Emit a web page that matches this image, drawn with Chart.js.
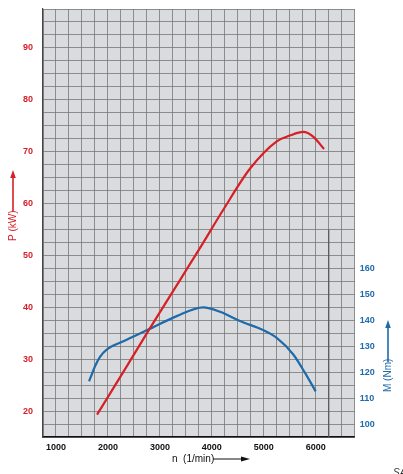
<!DOCTYPE html>
<html>
<head>
<meta charset="utf-8">
<script src="https://cdn.jsdelivr.net/npm/chart.js@4/dist/chart.umd.min.js"></script>
<style>
html, body { margin: 0; padding: 0; background: #fff; }
#wrap { width: 403px; height: 474px; }
</style>
</head>
<body>
<div id="wrap"><canvas id="c"></canvas></div>
<script>
// power curve P (kW) over engine speed n (1/min)
var rpmP = [1790, 2300, 2780, 3390, 3770, 4220, 4740, 5250, 5500, 5760, 5950, 6160];
var powerKW = [19.3, 27.6, 35.5, 45.3, 51.4, 58.8, 66.8, 72.0, 73.1, 73.8, 72.9, 70.5];

// torque curve M (Nm)
var rpmM = [1636, 1687, 1751, 1847, 1976, 2296, 2777, 3324, 3836, 4157, 4542, 4991, 5249, 5568, 5794, 5999];
var torqueNm = [116.5, 119.0, 122.3, 125.9, 128.7, 131.9, 136.4, 141.6, 145.0, 143.3, 139.7, 136.2, 133.2, 126.8, 119.7, 112.6];

// dark marker line near the end of the speed range
var markRpm = [6250, 6250];
var markKW = [15, 55];

var xTicks = [1000, 2000, 3000, 4000, 5000, 6000];
var pTicks = [20, 30, 40, 50, 60, 70, 80, 90];
var mTicks = [100, 110, 120, 130, 140, 150, 160];

var RED = '#d71f26';
var BLUE = '#1f6aa8';
var FONT = '"Liberation Sans", Arial, sans-serif';

function pts(xs, ys) {
    return xs.map(function (x, i) { return {x: x, y: ys[i]}; });
}

var plotBg = {
    id: 'plotBg',
    beforeDraw: function (chart) {
        var a = chart.chartArea, ctx = chart.ctx;
        ctx.save();
        ctx.fillStyle = '#d9dbde';
        ctx.fillRect(a.left, a.top, a.right - a.left, a.bottom - a.top);
        ctx.restore();
    }
};

function arrowUp(ctx, x, y0, y1, color) {
    ctx.strokeStyle = color;
    ctx.fillStyle = color;
    ctx.lineWidth = 1.6;
    ctx.beginPath(); ctx.moveTo(x, y0); ctx.lineTo(x, y1 + 7); ctx.stroke();
    ctx.beginPath(); ctx.moveTo(x, y1); ctx.lineTo(x - 2.8, y1 + 8); ctx.lineTo(x + 2.8, y1 + 8); ctx.closePath(); ctx.fill();
}

var titles = {
    id: 'titles',
    afterDraw: function (chart) {
        var ctx = chart.ctx;
        ctx.save();
        ctx.font = '10px ' + FONT;
        ctx.textBaseline = 'middle';
        ctx.textAlign = 'left';
        // left title
        ctx.save();
        ctx.translate(13, 241); ctx.rotate(-Math.PI / 2);
        ctx.fillStyle = RED; ctx.fillText('P (kW)', 0, 0);
        ctx.restore();
        arrowUp(ctx, 13, 211, 170, RED);
        // right title
        ctx.save();
        ctx.translate(388, 392); ctx.rotate(-Math.PI / 2);
        ctx.fillStyle = BLUE; ctx.fillText('M (Nm)', 0, 0);
        ctx.restore();
        arrowUp(ctx, 388, 362, 320, BLUE);
        // x title
        ctx.fillStyle = '#111';
        ctx.fillText('n  (1/min)', 172, 459);
        ctx.strokeStyle = '#111'; ctx.lineWidth = 1;
        ctx.beginPath(); ctx.moveTo(213, 459); ctx.lineTo(243, 459); ctx.stroke();
        ctx.beginPath(); ctx.moveTo(250, 459); ctx.lineTo(241, 456.5); ctx.lineTo(241, 461.5); ctx.closePath(); ctx.fill();
        // corner mark
        ctx.fillStyle = '#333';
        ctx.font = 'italic 10px ' + FONT;
        ctx.textBaseline = 'alphabetic';
        ctx.fillText('SA', 393, 476);
        ctx.restore();
    }
};

function only(list) {
    return function (v) { return list.indexOf(Math.round(v * 100) / 100) >= 0 ? String(v) : ''; };
}

function fitV(w) {
    return function (s) { s.width = w; s.paddingTop = 0; s.paddingBottom = 0; };
}

var tickFont = { family: FONT, size: 9, weight: 'bold' };

new Chart(document.getElementById('c'), {
    type: 'scatter',
    data: {
        datasets: [
            {
                label: 'P',
                data: pts(rpmP, powerKW),
                showLine: true,
                borderColor: RED,
                borderWidth: 2.2,
                pointRadius: 0,
                cubicInterpolationMode: 'monotone',
                yAxisID: 'y'
            },
            {
                label: 'M',
                data: pts(rpmM, torqueNm),
                showLine: true,
                borderColor: BLUE,
                borderWidth: 2.2,
                pointRadius: 0,
                cubicInterpolationMode: 'monotone',
                yAxisID: 'y2'
            },
            {
                label: 'mark',
                data: pts(markRpm, markKW),
                showLine: true,
                borderColor: '#555',
                borderWidth: 1.2,
                pointRadius: 0,
                yAxisID: 'y'
            }
        ]
    },
    options: {
        responsive: true,
        maintainAspectRatio: false,
        animation: false,
        layout: { padding: { top: 9, left: 0, right: 0, bottom: 0 } },
        plugins: { legend: { display: false }, tooltip: { enabled: false } },
        scales: {
            x: {
                type: 'linear',
                min: 750, max: 6750,
                afterFit: function (s) { s.height = 37; s.paddingLeft = 0; s.paddingRight = 0; },
                ticks: {
                    stepSize: 250, autoSkip: false, maxRotation: 0,
                    color: '#111', font: tickFont, padding: 5,
                    callback: only(xTicks)
                },
                grid: { color: '#777', lineWidth: 0.8, drawTicks: false },
                border: { color: '#111', width: 1.6 }
            },
            y: {
                position: 'left',
                min: 15, max: 97.5,
                afterFit: fitV(43),
                ticks: {
                    stepSize: 2.5, autoSkip: false,
                    color: RED, font: tickFont, padding: 10,
                    callback: only(pTicks)
                },
                grid: { color: '#777', lineWidth: 0.8, drawTicks: false },
                border: { color: '#444', width: 1.2 }
            },
            y2: {
                position: 'right',
                min: 95, max: 260,
                afterFit: fitV(48.3),
                ticks: {
                    stepSize: 5, autoSkip: false,
                    color: BLUE, font: tickFont, padding: 5,
                    callback: only(mTicks)
                },
                grid: { drawOnChartArea: false, drawTicks: false },
                border: { display: false }
            }
        }
    },
    plugins: [plotBg, titles]
});
</script>
</body>
</html>
